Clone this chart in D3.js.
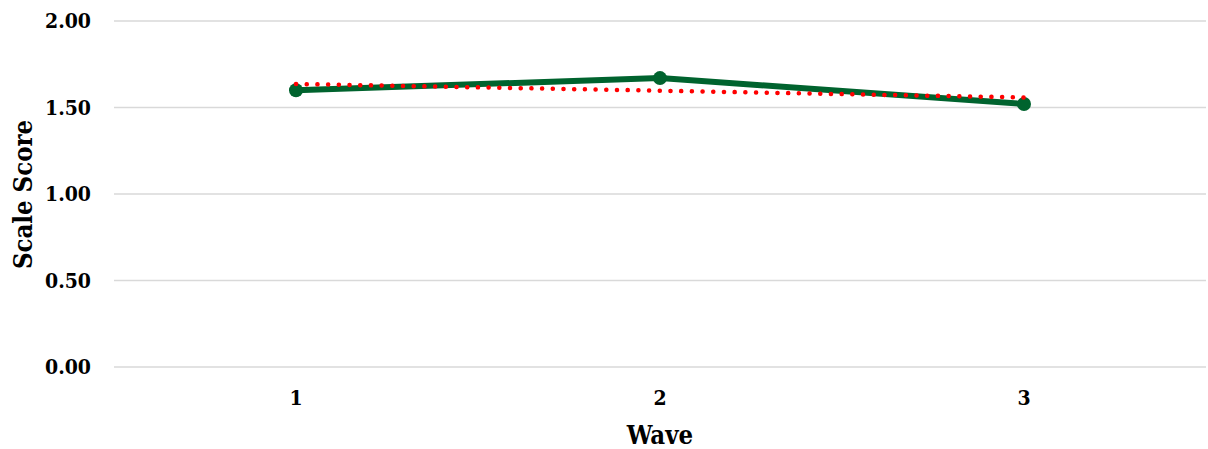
<!DOCTYPE html>
<html>
<head>
<meta charset="utf-8">
<script src="https://cdn.jsdelivr.net/npm/d3@7"></script>
<style>
  body { margin: 0; background: #fff; }
  text { font-family: "DejaVu Serif Condensed", "DejaVu Serif", serif; font-stretch: condensed; font-weight: bold; fill: #000; }
</style>
</head>
<body>
<script>
var waves = ["1", "2", "3"];
var scores = [1.60, 1.67, 1.52];
// linear trendline ends
var trend = [1.636, 1.558];
var yTicks = [0, 0.5, 1, 1.5, 2];

var W = 1208, H = 449;
var margin = { top: 21, right: 2, bottom: 82, left: 114 },
  width = W - margin.left - margin.right,
  height = H - margin.top - margin.bottom;

var svg = d3.select("body").append("svg")
  .attr("width", W)
  .attr("height", H)
  .append("g")
  .attr("transform", "translate(" + margin.left + "," + margin.top + ")");

var x = d3.scaleBand().domain(waves).range([0, width]);
var y = d3.scaleLinear().domain([0, 2]).range([height, 0]);
function cx(d) { return x(d) + x.bandwidth() / 2; }

// gridlines
svg.selectAll(".grid").data(yTicks).enter().append("line")
  .attr("x1", 0).attr("x2", width)
  .attr("y1", function (d) { return y(d); })
  .attr("y2", function (d) { return y(d); })
  .attr("stroke", "#d9d9d9").attr("stroke-width", 1.5);

// y tick labels
svg.selectAll(".ylab").data(yTicks).enter().append("text")
  .attr("x", -23).attr("y", function (d) { return y(d); })
  .attr("dy", "0.35em").attr("text-anchor", "end")
  .style("font-size", "21px")
  .text(function (d) { return d3.format(".2f")(d); });

// x tick labels
svg.selectAll(".xlab").data(waves).enter().append("text")
  .attr("x", cx).attr("y", height + 38)
  .attr("text-anchor", "middle")
  .style("font-size", "21px")
  .text(function (d) { return d; });

// axis titles
svg.append("text")
  .attr("x", width / 2).attr("y", height + 77)
  .attr("text-anchor", "middle")
  .style("font-size", "25.5px")
  .text("Wave");
svg.append("text")
  .attr("transform", "translate(" + (31.5 - margin.left) + "," + (194.5 - margin.top) + ") rotate(-90)")
  .attr("text-anchor", "middle")
  .style("font-size", "25.5px")
  .text("Scale Score");

// data line
var line = d3.line()
  .x(function (d, i) { return cx(waves[i]); })
  .y(function (d) { return y(d); });

svg.append("path")
  .datum(scores)
  .attr("d", line)
  .attr("fill", "none")
  .attr("stroke", "#00632e")
  .attr("stroke-width", 6)
  .attr("stroke-linejoin", "round");

svg.selectAll(".pt").data(scores).enter().append("circle")
  .attr("cx", function (d, i) { return cx(waves[i]); })
  .attr("cy", function (d) { return y(d); })
  .attr("r", 7)
  .attr("fill", "#00632e");

// trendline (dotted red)
svg.append("line")
  .attr("x1", cx(waves[0])).attr("y1", y(trend[0]))
  .attr("x2", cx(waves[waves.length - 1])).attr("y2", y(trend[1]))
  .attr("stroke", "#ff0000")
  .attr("stroke-width", 4.5)
  .attr("stroke-linecap", "round")
  .attr("stroke-dasharray", "0.1 10.6");
</script>
</body>
</html>
